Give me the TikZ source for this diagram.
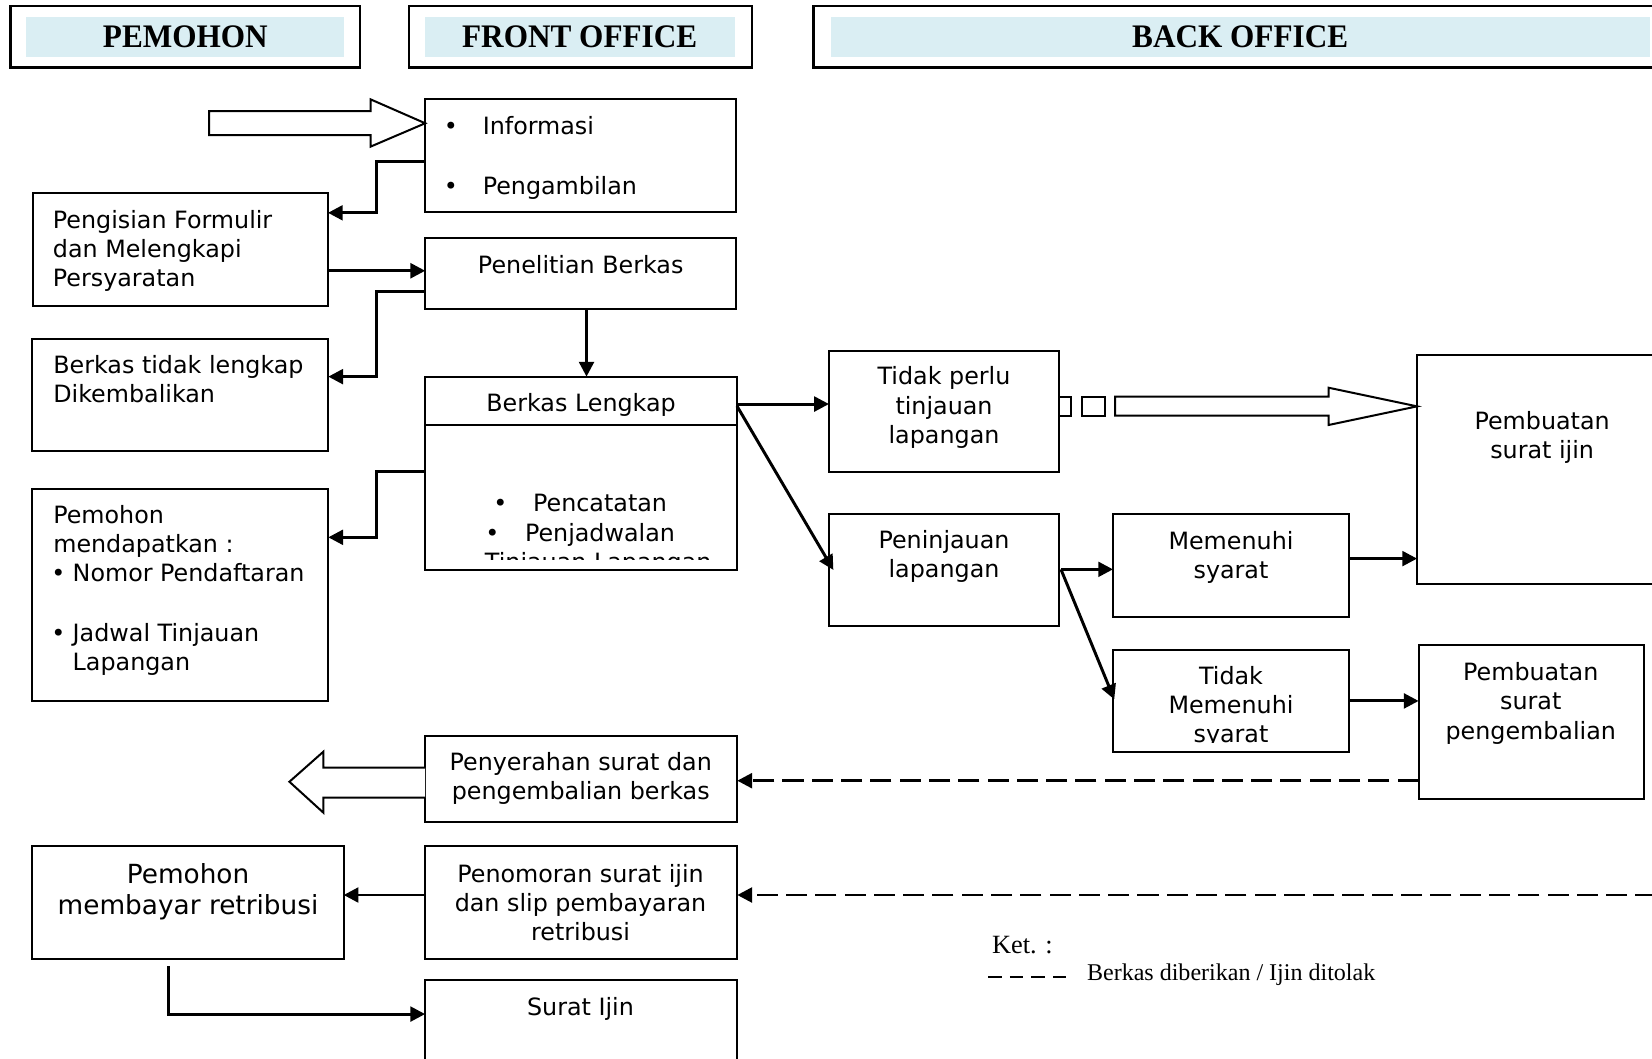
\documentclass[tikz,border=0pt]{standalone}
\usepackage{fontspec}
\setmainfont{DejaVu Sans}
\newfontfamily\hdrfont{Liberation Serif}
\newfontfamily\hdrcond[FakeStretch=0.95]{Liberation Serif}
\usetikzlibrary{arrows.meta,calc}
\definecolor{hdrfill}{HTML}{DAEEF3}
\newcommand\bx[5]{\node[boxst, minimum width={0.5pt*(#4-#2)}, minimum height={0.5pt*(#5-#3)}] (#1) at (#2,#3) {};}
\newcommand\lns[2]{\begin{tabular}[t]{@{}#1@{}}#2\end{tabular}}
\begin{document}
\begin{tikzpicture}[x=0.5pt,y=-0.5pt,
  boxst/.style={draw, line width=0.95pt, rectangle, anchor=north west, inner sep=0pt, outer sep=0pt},
  hdrbox/.style={draw, line width=1.1pt, rectangle, anchor=north west, inner sep=0pt, outer sep=0pt},
  txt/.style={font=\fontsize{11.3}{13.9}\selectfont, inner sep=0pt, outer sep=0pt},
  bigtxt/.style={font=\fontsize{12.5}{15}\selectfont, inner sep=0pt, outer sep=0pt},
  hdr/.style={font=\hdrcond\bfseries\fontsize{15.6}{18}\selectfont, inner sep=0pt, anchor=base},
  legtxt/.style={font=\hdrfont\fontsize{11.4}{14}\selectfont, inner sep=0pt, anchor=base west},
  conn/.style={line width=1.4pt, -{Triangle[length=7pt,width=7pt]}},
  dconn/.style={line width=1.4pt, dash pattern=on 10pt off 3.9pt, -{Triangle[length=7pt,width=7pt]}},
  blockarrow/.style={draw, line width=0.95pt, fill=white, line join=miter}
]
\clip (0,0) rectangle (1568,1005);
\fill[white] (0,0) rectangle (1568,1005);

% ---------- headers ----------
\node[hdrbox, minimum width={0.5pt*(341.7-10)}, minimum height={0.5pt*(64.2-5.7)}] (hPem) at (10,5.7) {};
\fill[hdrfill] (25.1,15.8) rectangle (326.6,53.8);
\node[hdr] (hPemT) at (175.9,45.4) {PEMOHON};

\node[hdrbox, minimum width={0.5pt*(713.5-387.9)}, minimum height={0.5pt*(64.2-5.7)}] (hFront) at (387.9,5.7) {};
\fill[hdrfill] (403.4,15.8) rectangle (698,53.8);
\node[hdr] (hFrontT) at (550.2,45.4) {FRONT OFFICE};

\node[hdrbox, minimum width={0.5pt*(1600-772.2)}, minimum height={0.5pt*(64.2-5.7)}] (hBack) at (772.2,5.7) {};
\fill[hdrfill] (788.7,15.8) rectangle (1566,53.8);
\node[hdr] (hBackT) at (1177.1,45) {BACK OFFICE};

% ---------- boxes ----------
\bx{info}{403.6}{94.3}{698.8}{201.2}
\bx{pengisian}{31.1}{183.5}{311.3}{290.4}
\bx{penelitian}{403.6}{225.9}{698.8}{293}
\bx{tidaklengkap}{30.7}{321.8}{311.6}{428.1}
\bx{lengkap}{403.4}{357.5}{699.5}{541}
\bx{mendapatkan}{30.7}{463.8}{311.6}{665.3}
\bx{tidakperlu}{786.8}{332.8}{1005.4}{447.7}
\bx{peninjauan}{786.8}{487.9}{1005.4}{594.2}
\bx{memenuhi}{1056.4}{487.7}{1280.4}{585.2}
\bx{suratijin}{1345}{337}{1600}{554.3}
\bx{tidakmemenuhi}{1056.4}{617}{1280.4}{714}
\bx{pengembalian}{1346.5}{612.2}{1560}{758}
\bx{penyerahan}{403.5}{698.3}{699.8}{780.5}
\bx{membayar}{30.8}{803.3}{326.2}{909.9}
\bx{penomoran}{403.5}{803.3}{699.8}{909.9}
\bx{suratIjinBox}{403.5}{930.2}{699.8}{1030}
\draw[line width=0.95pt] (lengkap.west |- 0,403.4) -- (lengkap.east |- 0,403.4);

% ---------- texts ----------
\node[txt, anchor=base] (ib1) at (428,127.5) {•};
\node[txt, anchor=base west] (it1) at (458.2,127.5) {Informasi};
\node[txt, anchor=base] (ib2) at (428,184.4) {•};
\node[txt, anchor=base west] (it2) at (458.2,184.4) {Pengambilan};

\node[txt, anchor=base west] (pengisianT) at (50.2,216.7) {\lns{l}{Pengisian Formulir\\dan Melengkapi\\Persyaratan}};
\node[txt, anchor=base] (penelitianT) at (551.2,259.4) {Penelitian Berkas};
\node[txt, anchor=base west] (tidaklengkapT) at (50.6,354.3) {\lns{l}{Berkas tidak lengkap\\Dikembalikan}};

\node[txt, anchor=base] (lengkapT) at (551.5,390.7) {Berkas Lengkap};
\node[txt, anchor=base] (lb1) at (475,485.6) {•};
\node[txt, anchor=base west] (lt1) at (506,485.6) {Pencatatan};
\node[txt, anchor=base] (lb2) at (467.3,513.5) {•};
\node[txt, anchor=base west] (lt2) at (498.3,513.5) {Penjadwalan};
\begin{scope}
\clip (403.4,403.4) rectangle (699.5,530.6);
\node[txt, anchor=base west] (lt3) at (460.3,541.5) {Tinjauan Lapangan};
\end{scope}

\node[txt, anchor=base west] (mdT1) at (50.6,496.7) {\lns{l}{Pemohon\\mendapatkan :}};
\node[txt, anchor=base] (mdb1) at (55.4,552.1) {•};
\node[txt, anchor=base west] (mdT2) at (69,552.1) {Nomor Pendaftaran};
\node[txt, anchor=base] (mdb2) at (55.4,609) {•};
\node[txt, anchor=base west] (mdT3) at (69,609) {\lns{l}{Jadwal Tinjauan\\Lapangan}};

\node[txt, anchor=base] (tidakperluT) at (896,365.4) {\lns{c}{Tidak perlu\\tinjauan\\lapangan}};
\node[txt, anchor=base] (peninjauanT) at (896,520.4) {\lns{c}{Peninjauan\\lapangan}};
\node[txt, anchor=base] (memenuhiT) at (1168.4,521.4) {\lns{c}{Memenuhi\\syarat}};
\node[txt, anchor=base] (suratijinT) at (1463.7,407.5) {\lns{c}{Pembuatan\\surat ijin}};
\begin{scope}
\clip (1056.4,617) rectangle (1280.4,705);
\node[txt, anchor=base] (tidakmemenuhiT) at (1168.4,649.4) {\lns{c}{Tidak\\Memenuhi\\syarat}};
\end{scope}
\node[txt, anchor=base] (pengembalianT) at (1452.9,646) {\lns{c}{Pembuatan\\surat\\pengembalian}};

\node[txt, anchor=base] (penyerahanT) at (551.2,731.5) {\lns{c}{Penyerahan surat dan\\pengembalian berkas}};
\node[bigtxt, anchor=base] (membayarT) at (178.5,838.4) {\lns{c}{Pemohon\\membayar retribusi}};
\node[txt, anchor=base] (penomoranT) at (551,837.5) {\lns{c}{Penomoran surat ijin\\dan slip pembayaran\\retribusi}};
\node[txt, anchor=base] (suratIjinT) at (551,963.4) {Surat Ijin};

% ---------- block arrows ----------
\draw[blockarrow] (198.5,105.4) -- (351.7,105.4) -- (351.7,94.3) -- (info.west |- 0,117) -- (351.7,139.2) -- (351.7,128.2) -- (198.5,128.2) -- cycle;
\draw[blockarrow] (penyerahan.west |- 0,728.6) -- (307,728.6) -- (307,713.4) -- (274.7,742) -- (307,771.4) -- (307,757) -- (penyerahan.west |- 0,757);
\draw[blockarrow] (tidakperlu.east |- 0,376.5) rectangle (1016.2,394.6);
\draw[blockarrow] (1026.5,376.5) rectangle (1048.6,394.6);
\draw[blockarrow] (1058.3,376.5) -- (1261,376.5) -- (1261,368) -- (suratijin.west |- 0,385.7) -- (1261,403.4) -- (1261,394.5) -- (1058.3,394.5) -- cycle;

% ---------- connectors ----------
\draw[conn] (info.west |- 0,153) -- (357,153) -- (357,202) -- (pengisian.east |- 0,202);
\draw[conn] (pengisian.east |- 0,257) -- (penelitian.west |- 0,257);
\draw[conn] (penelitian.west |- 0,277) -- (357.5,277) -- (357.5,357.5) -- (tidaklengkap.east |- 0,357.5);
\draw[conn] (penelitian.south -| 556.7,0) -- (lengkap.north -| 556.7,0);
\draw[conn] (lengkap.west |- 0,447.7) -- (357.5,447.7) -- (357.5,510) -- (mendapatkan.east |- 0,510);
\draw[conn] (lengkap.east |- 0,383.5) -- (tidakperlu.west |- 0,383.5);
\draw[conn] (lengkap.east |- 0,385.4) -- ($(peninjauan.west |- 0,541)+(4.2,0)$);
\draw[conn] ($(peninjauan.east |- 0,540.4)+(1.6,0)$) -- (memenuhi.west |- 0,540.4);
\draw[conn] ($(peninjauan.east |- 0,540.4)+(1.6,0)$) -- ($(tidakmemenuhi.west |- 0,663.8)+(1.2,0)$);
\draw[conn] (memenuhi.east |- 0,530.2) -- (suratijin.west |- 0,530.2);
\draw[conn] (tidakmemenuhi.east |- 0,665.3) -- (pengembalian.west |- 0,665.3);
\draw[dconn] (pengembalian.west |- 0,741) -- (penyerahan.east |- 0,741);
\coordinate (offR) at (1600,849.5);
\draw[dconn] (offR) -- (penomoran.east |- 0,849.5);
\draw[conn] (penomoran.west |- 0,849.5) -- (membayar.east |- 0,849.5);
\draw[conn] ($(membayar.south -| 160,0)+(0,7.2)$) -- (160,962.5) -- (suratIjinBox.west |- 0,962.5);

% ---------- legend ----------
\node[legtxt, font=\hdrfont\fontsize{12.5}{14}\selectfont] (ket) at (941.2,905) {Ket. :};
\coordinate (legA) at (938,927.2);
\coordinate (legB) at (1012.6,927.2);
\draw[line width=1pt, dash pattern=on 6.3pt off 3.95pt] (legA) -- (legB);
\node[legtxt] (legT) at (1031.4,930.6) {Berkas diberikan / Ijin ditolak};
\end{tikzpicture}
\end{document}
